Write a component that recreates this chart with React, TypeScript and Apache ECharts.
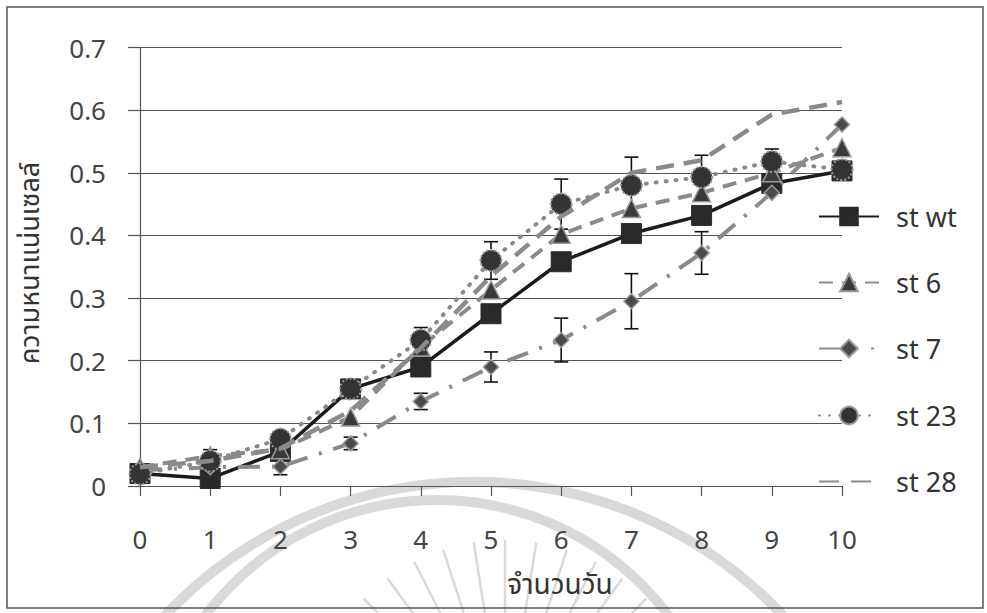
import React, { useEffect, useRef } from "react";
import * as echarts from "echarts";

// Days of culture (x) and cell density per strain (y)
const days = [0, 1, 2, 3, 4, 5, 6, 7, 8, 9, 10];
const stWt = [0.02, 0.012, 0.055, 0.155, 0.19, 0.275, 0.358, 0.403, 0.432, 0.483, 0.503];
const st6 = [0.03, 0.048, 0.058, 0.11, 0.222, 0.313, 0.402, 0.443, 0.468, 0.5, 0.54];
const st7 = [0.025, 0.03, 0.031, 0.068, 0.135, 0.19, 0.233, 0.295, 0.372, 0.468, 0.577];
const st23 = [0.019, 0.04, 0.075, 0.155, 0.233, 0.36, 0.45, 0.48, 0.493, 0.518, 0.505];
const st28 = [0.03, 0.04, 0.06, 0.12, 0.22, 0.335, 0.43, 0.5, 0.52, 0.593, 0.613];

// Standard deviations drawn as error bars (0 = none)
const errWt = [0, 0, 0, 0.012, 0, 0, 0, 0, 0, 0, 0];
const err6 = [0, 0.01, 0, 0, 0, 0, 0, 0, 0, 0, 0];
const err7 = [0, 0, 0.013, 0.01, 0.013, 0.024, 0.035, 0.044, 0.034, 0, 0];
const err23 = [0, 0, 0, 0, 0.02, 0.03, 0.04, 0.045, 0.035, 0.02, 0];

const yTicks = ["0", "0.1", "0.2", "0.3", "0.4", "0.5", "0.6", "0.7"];
const legendNames = ["st wt", "st 6", "st 7", "st 23", "st 28"];

const FONT = "'Noto Sans', 'Open Sans', sans-serif";
const THAI = "'Noto Sans Thai', 'Loma', 'Garuda', 'Noto Sans', sans-serif";

const pairs = (vals: number[]) => vals.map((v, i) => [days[i], v]);
const errRows = (vals: number[], errs: number[]) =>
  errs
    .map((e, i) => (e > 0 ? [days[i], vals[i] - e, vals[i] + e] : null))
    .filter((r) => r !== null) as number[][];

const errorBarSeries = (rows: number[][]) => ({
  type: "custom",
  z: 1,
  silent: true,
  data: rows,
  renderItem: (params: any, api: any) => {
    const x = api.value(0);
    const lo = api.coord([x, api.value(1)]);
    const hi = api.coord([x, api.value(2)]);
    const half = 7;
    const style = { stroke: "#111", lineWidth: 1.6 };
    return {
      type: "group",
      children: [
        { type: "line", shape: { x1: lo[0], y1: lo[1], x2: hi[0], y2: hi[1] }, style },
        { type: "line", shape: { x1: hi[0] - half, y1: hi[1], x2: hi[0] + half, y2: hi[1] }, style },
        { type: "line", shape: { x1: lo[0] - half, y1: lo[1], x2: lo[0] + half, y2: lo[1] }, style },
      ],
    };
  },
});

// Faint seal watermark behind the lower part of the chart
const watermark = () => {
  const els: any[] = [];
  const c = "#d9d9d9";
  els.push({
    type: "arc",
    z: -5,
    silent: true,
    shape: { cx: 474, cy: 906, r: 424, startAngle: Math.PI, endAngle: 2 * Math.PI },
    style: { stroke: c, lineWidth: 10, fill: "none" },
  });
  els.push({
    type: "arc",
    z: -5,
    silent: true,
    shape: { cx: 437, cy: 790, r: 290, startAngle: Math.PI, endAngle: 2 * Math.PI },
    style: { stroke: c, lineWidth: 10, fill: "none" },
  });
  const cx = 505;
  const cy = 740;
  for (let k = 0; k < 12; k++) {
    const a = Math.PI * (1.2 + k * 0.05);
    els.push({
      type: "line",
      z: -5,
      silent: true,
      shape: {
        x1: cx + Math.cos(a) * 125,
        y1: cy + Math.sin(a) * 125,
        x2: cx + Math.cos(a) * 200,
        y2: cy + Math.sin(a) * 200,
      },
      style: { stroke: c, lineWidth: 2.5 },
    });
  }
  return els;
};

const legendTops = [203, 269, 335, 402, 468];

// Legend swatch overrides so the short sample lines read like the plotted ones
const legendItem = (n: string) => {
  if (n === "st 28") return { name: n, itemStyle: { opacity: 0 }, lineStyle: { type: [20, 12] } };
  if (n === "st 7") return { name: n, lineStyle: { type: [38, 14, 3, 20] } };
  return n;
};

export default function App() {
  const ref = useRef<HTMLDivElement>(null);

  useEffect(() => {
    if (!ref.current) return;
    const chart = echarts.init(ref.current, null, { renderer: "svg" });

    const gray = "#8a8a8a";
    const markBorder = { borderColor: "#9a9a9a", borderWidth: 1.5 };

    chart.setOption({
      animation: false,
      backgroundColor: "#ffffff",
      grid: { left: 140, right: 145, top: 47.5, bottom: 127 },
      xAxis: {
        type: "value",
        min: 0,
        max: 10,
        interval: 1,
        axisLine: { show: true, lineStyle: { color: "#555", width: 1.2 } },
        axisTick: { show: true, length: 10, lineStyle: { color: "#555", width: 1.2 } },
        axisLabel: { margin: 40, fontSize: 26, color: "#444", fontFamily: FONT },
        splitLine: { show: false },
      },
      yAxis: {
        type: "value",
        min: 0,
        max: 0.7,
        interval: 0.1,
        axisLine: { show: true, lineStyle: { color: "#555", width: 1.2 } },
        axisTick: { show: true, length: 12, lineStyle: { color: "#555", width: 1.2 } },
        axisLabel: {
          margin: 34,
          fontSize: 26,
          color: "#444",
          fontFamily: FONT,
          formatter: (v: number) => yTicks[Math.round(v * 10)] ?? String(v),
        },
        splitLine: { show: true, lineStyle: { color: "#555", width: 1.2 } },
      },
      legend: legendNames.map((n, i) => ({
        data: [legendItem(n)],
        orient: "vertical",
        left: 818,
        top: legendTops[i],
        padding: 0,
        itemWidth: 60,
        itemHeight: 22,
        textStyle: { fontSize: 27, color: "#333", fontFamily: FONT, padding: [0, 0, 0, 12] },
      })),
      graphic: [
        {
          type: "rect",
          z: 10,
          silent: true,
          shape: { x: 7, y: 7, width: 976, height: 601 },
          style: { fill: "none", stroke: "#555", lineWidth: 1.5 },
        },
        ...watermark(),
        {
          type: "text",
          silent: true,
          x: 30,
          y: 263,
          rotation: Math.PI / 2,
          style: {
            text: "ความหนาแน่นเซลล์",
            fontSize: 27,
            fontFamily: THAI,
            fill: "#333",
            align: "center",
            verticalAlign: "middle",
          },
        },
        {
          type: "text",
          silent: true,
          x: 560,
          y: 585,
          style: {
            text: "จำนวนวัน",
            fontSize: 28,
            fontFamily: THAI,
            fill: "#333",
            align: "center",
            verticalAlign: "middle",
          },
        },
      ],
      series: [
        errorBarSeries(errRows(stWt, errWt)),
        errorBarSeries(errRows(st6, err6)),
        errorBarSeries(errRows(st7, err7)),
        errorBarSeries(errRows(st23, err23)),
        {
          name: "st wt",
          type: "line",
          z: 2,
          data: pairs(stWt),
          symbol: "rect",
          symbolSize: 20,
          lineStyle: { color: "#1c1c1c", width: 3.5 },
          itemStyle: { color: "#2a2a2a", borderColor: "#2a2a2a", borderWidth: 1 },
        },
        {
          name: "st 6",
          type: "line",
          z: 3,
          data: pairs(st6),
          symbol: "triangle",
          symbolSize: 18,
          lineStyle: { color: gray, width: 4, type: [14, 9] },
          itemStyle: { color: "#3a3a3a", ...markBorder },
        },
        {
          name: "st 7",
          type: "line",
          z: 4,
          data: pairs(st7),
          symbol: "diamond",
          symbolSize: 15,
          lineStyle: { color: gray, width: 4, type: [22, 12, 3, 12] },
          itemStyle: { color: "#4a4a4a", ...markBorder },
        },
        {
          name: "st 23",
          type: "line",
          z: 5,
          data: pairs(st23),
          symbol: "circle",
          symbolSize: 21,
          lineStyle: { color: gray, width: 4, type: [1, 9], cap: "round" },
          itemStyle: { color: "#333333", borderColor: "#9a9a9a", borderWidth: 2, borderType: "dotted" },
        },
        {
          name: "st 28",
          type: "line",
          z: 6,
          data: pairs(st28),
          symbol: "none",
          lineStyle: { color: gray, width: 4.5, type: [18, 10] },
          itemStyle: { color: gray },
        },
      ],
    });

    return () => chart.dispose();
  }, []);

  return (
    <div
      ref={ref}
      style={{ position: "fixed", left: 0, top: 0, width: 987, height: 613, background: "#fff" }}
    />
  );
}
